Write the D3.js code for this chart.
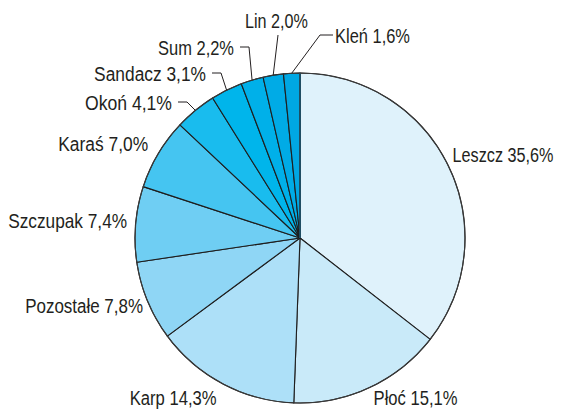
<!DOCTYPE html>
<html><head><meta charset="utf-8">
<script src="https://cdn.jsdelivr.net/npm/d3@7"></script>
<style>
html,body{margin:0;padding:0;background:#fff;}
svg text{font-family:"Liberation Sans",Arial,sans-serif;font-size:21px;fill:#231f20;}
</style></head>
<body><svg id="c" width="562" height="410"></svg>
<script>
const categories = ["Leszcz","Płoć","Karp","Pozostałe","Szczupak","Karaś","Okoń","Sandacz","Sum","Lin","Kleń"];
const values = [35.6,15.1,14.3,7.8,7.4,7.0,4.1,3.1,2.2,2.0,1.6];
const valueLabels = ["35,6%","15,1%","14,3%","7,8%","7,4%","7,0%","4,1%","3,1%","2,2%","2,0%","1,6%"];
const colors = ["#dff2fb","#c9eaf9","#ade0f8","#8fd6f5","#6fcef3","#45c5f1","#19bcee","#00b5eb","#00b0e9","#00abe6","#00a7e3"];

// label layout (styling / placement only)
const cx = 300, cy = 238, R = 165;
const textWidths = {"Leszcz":101,"Płoć":84,"Karp":87,"Pozostałe":118,"Szczupak":119,"Karaś":90,
  "Okoń":87,"Sandacz":112,"Sum":76,"Lin":63,"Kleń":75};
const bigOffsets = { // offset from arc point at radius 172
  "Leszcz":[-2,-8,"start"], "Płoć":[1,3.5,"start"], "Karp":[-3,7,"end"],
  "Pozostałe":[2,1.5,"end"], "Szczupak":[-1.5,-3,"end"], "Karaś":[-4,-7,"end"]
};
const leaders = { // elbow relative to center, horizontal run, text gap
  "Okoń":{e:[-113,-136],h:-9,gap:6},
  "Sandacz":{e:[-79,-165],h:-9,gap:6},
  "Sum":{e:[-51,-191],h:-9,gap:6},
  "Lin":{e:[-22,-203],h:0,gap:0,top:true},
  "Kleń":{e:[20,-203],h:13,gap:2}
};

const svg = d3.select("#c");
const g = svg.append("g").attr("transform",`translate(${cx},${cy})`);
const pie = d3.pie().sort(null).value(d=>d.v);
const data = categories.map((c,i)=>({c, v:values[i], lab:valueLabels[i], col:colors[i]}));
const arcs = pie(data);
const arc = d3.arc().innerRadius(0).outerRadius(R);

g.selectAll("path.s").data(arcs).join("path")
  .attr("class","s").attr("d",arc).attr("fill",d=>d.data.col)
  .attr("stroke","#1e1e1e").attr("stroke-width",1.1).attr("stroke-linejoin","round");

// emphasized start radius
g.append("line").attr("x1",0).attr("y1",0).attr("x2",0).attr("y2",-R)
  .attr("stroke","#1f4d62").attr("stroke-width",2);
g.append("circle").attr("r",R).attr("fill","none").attr("stroke","#3a3a3a").attr("stroke-width",1.1);

const pt = (a,r)=>[Math.sin(a)*r, -Math.cos(a)*r];

function addText(x,y,anchor,txt,name){
  const t = g.append("text").attr("dy","0.36em").attr("text-anchor",anchor).text(txt);
  const natural = t.node().getComputedTextLength();
  const s = textWidths[name] / natural;
  t.attr("transform",`translate(${x},${y}) scale(${s},1)`);
}

arcs.forEach(d=>{
  const name = d.data.c;
  const mid = (d.startAngle+d.endAngle)/2;
  const txt = name + " " + d.data.lab;
  if (bigOffsets[name]) {
    const [dx,dy,anc] = bigOffsets[name];
    const p = pt(mid,172);
    addText(p[0]+dx,p[1]+dy,anc,txt,name);
  } else {
    const L = leaders[name];
    const p0 = pt(mid,R);
    const e = L.e;
    const p2 = [e[0]+L.h, e[1]];
    g.append("polyline").attr("points",[p0,e,p2].map(q=>q.join(",")).join(" "))
      .attr("fill","none").attr("stroke","#231f20").attr("stroke-width",1);
    if (L.top) addText(e[0]-1.5,e[1]-15,"middle",txt,name);
    else if (L.h < 0) addText(p2[0]-L.gap,p2[1],"end",txt,name);
    else addText(p2[0]+L.gap,p2[1],"start",txt,name);
  }
});
</script></body></html>
